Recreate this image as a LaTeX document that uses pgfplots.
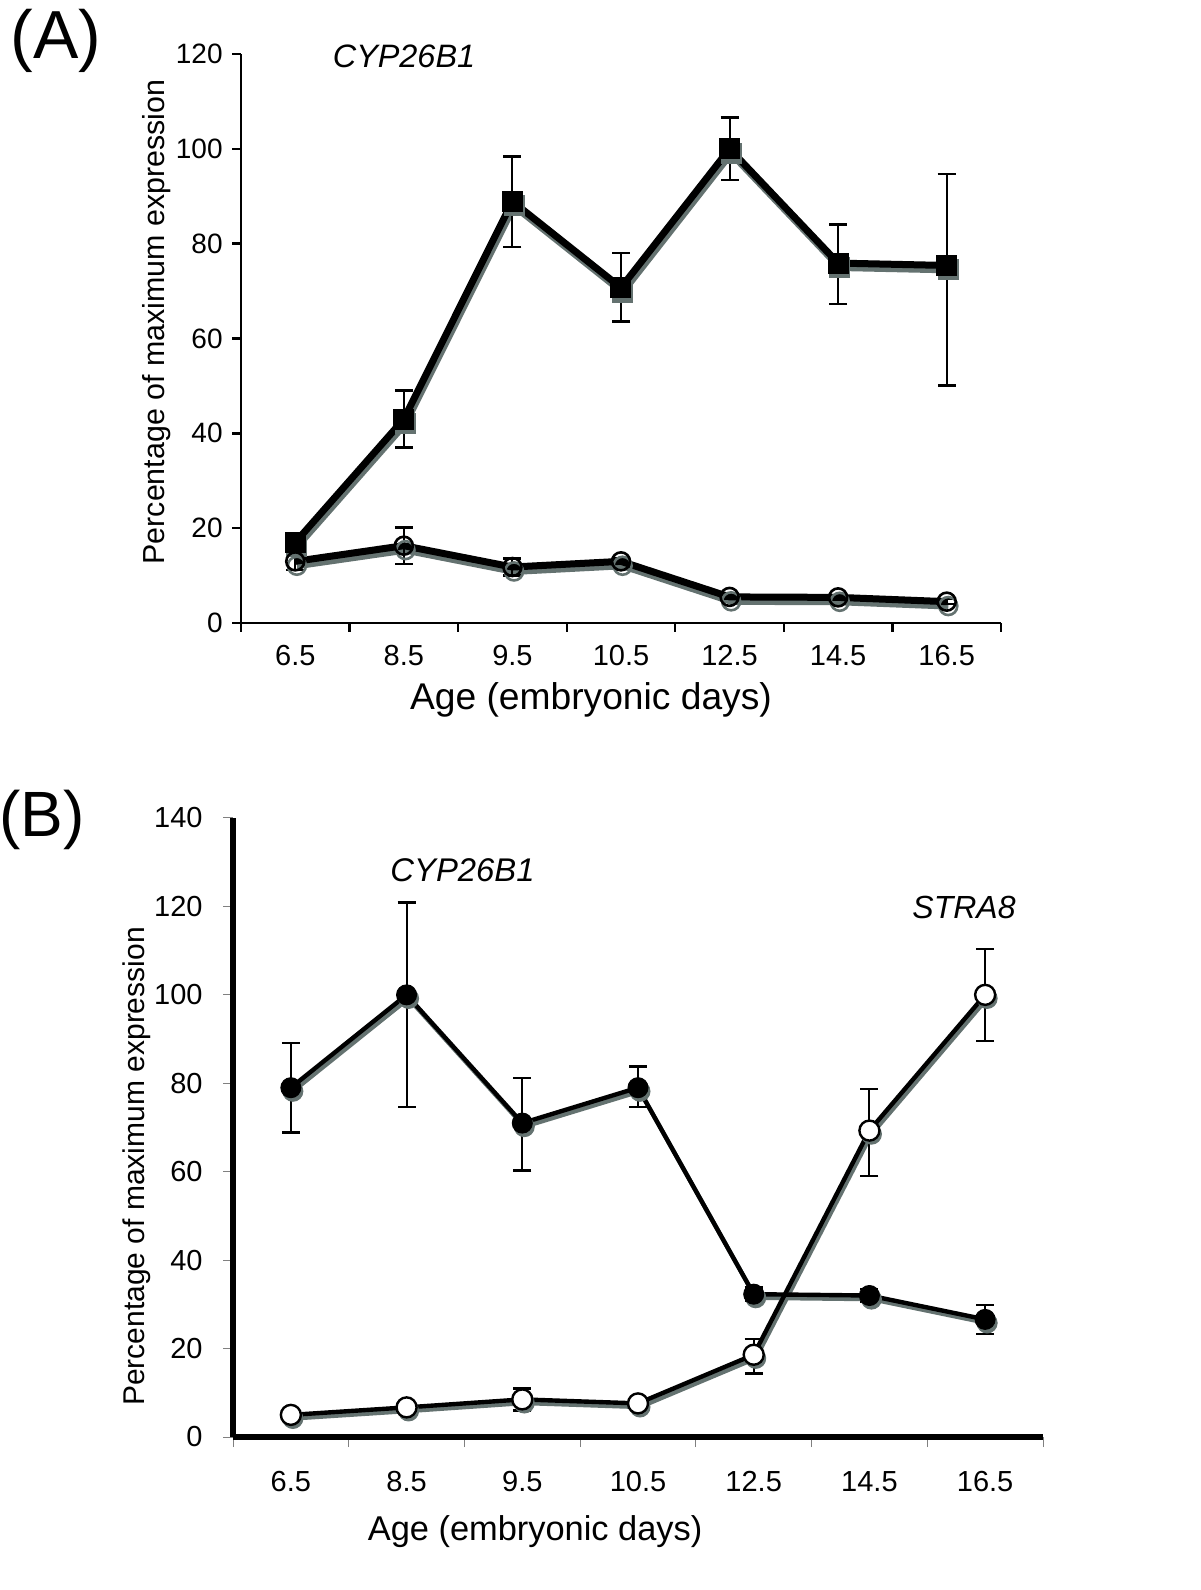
\documentclass[border=0pt]{standalone}
\usepackage{fontspec}
\setmainfont{Liberation Sans}
\usepackage{pgfplots}
\usepackage{pgfplotstable}
\pgfplotsset{compat=1.18}
\definecolor{shadowc}{RGB}{100,114,112}

\pgfplotstableread{
x y ep em
0 17 1.2 1.2
1 43 6 6
2 88.9 9.5 9.6
3 70.7 7.3 7.1
4 100 6.6 6.6
5 75.9 8.1 8.6
6 75.4 19.3 25.3
}\Asq
\pgfplotstableread{
x y ep em
0 13 1.8 1.8
1 16.3 3.8 3.8
2 11.8 1.8 1.8
3 13.0 0.6 0.6
4 5.5 0.5 0.5
5 5.4 0.5 0.5
6 4.5 0.5 0.5
}\Acirc
\pgfplotstableread{
x y ep em
0 79 10.1 10.1
1 100 20.9 25.4
2 71 10.2 10.7
3 79 4.8 4.4
4 32.3 1.5 1.5
5 32 1.5 1.5
6 26.6 3.3 3.3
}\Bfill
\pgfplotstableread{
x y ep em
0 5.0 1 1
1 6.7 1 1
2 8.5 2.5 2.5
3 7.6 1 1
4 18.6 3.6 4.2
5 69.3 9.4 10.3
6 100 10.4 10.5
}\Bopen

\pgfplotsset{
  commonax/.style={
    scale only axis,
    axis lines*=left,
    xmin=-0.5, xmax=6.5,
    tick align=outside,
    xtick={-0.5,0.5,...,6.5},
    xticklabels={},
    extra x ticks={0,1,2,3,4,5,6},
    extra x tick labels={6.5,8.5,9.5,10.5,12.5,14.5,16.5},
    extra x tick style={major tick length=0pt},
    /pgf/number format/assume math mode=true,
    clip=false,
  },
  errstyle/.style={
    error bars/.cd, y dir=both, y explicit,
    error bar style={line width=1pt, black, solid},
    error mark options={rotate=90, mark size=4.5pt, line width=1.2pt, black},
  },
}

\begin{document}
\begin{tikzpicture}
\path[use as bounding box] (0,0) rectangle (600pt,795pt);

% ---------- Panel A ----------
\begin{axis}[commonax,
  at={(120.5pt,483.5pt)}, anchor=south west,
  width=380pt, height=284.5pt,
  ymin=0, ymax=120, ytick={0,20,...,120},
  axis line style={line width=1.3pt},
  major tick style={line width=1.2pt, black},
  major tick length=4.5pt,
  yticklabel style={font=\fontsize{14}{16}\selectfont, inner sep=0pt, xshift=-4.5pt},
  xticklabel style={font=\fontsize{14.5}{16}\selectfont, anchor=center, yshift=-16.5pt},
  every axis y label/.style={at={(axis description cs:-0.1105,0.529)}, rotate=90, anchor=center, font=\fontsize{15.2}{18}\selectfont},
  every axis x label/.style={at={(axis description cs:0.4605,-0.135)}, anchor=center, font=\fontsize{18.6}{21}\selectfont},
  ylabel={Percentage of maximum expression},
  xlabel={Age (embryonic days)},
]
% shadows
\addplot[shadowc, line width=3.5pt, mark=square*, mark size=5pt, mark options={solid, line width=0.5pt, fill=shadowc}, xshift=0.8pt, yshift=-2.2pt, forget plot] table[x=x,y=y]{\Asq};
\addplot[shadowc, line width=3.5pt, mark=o, mark size=4.5pt, mark options={solid, line width=1.3pt}, xshift=0.8pt, yshift=-2.2pt, forget plot] table[x=x,y=y]{\Acirc};
% main
\addplot[black, line width=3.5pt, mark=o, mark size=4.5pt, mark options={solid, line width=1.3pt}, errstyle] table[x=x,y=y,y error plus=ep,y error minus=em]{\Acirc};
\addplot[black, line width=3.5pt, mark=square*, mark size=5pt, mark options={solid, line width=0.5pt}, errstyle] table[x=x,y=y,y error plus=ep,y error minus=em]{\Asq};
\end{axis}

% ---------- Panel B ----------
\begin{axis}[commonax,
  at={(116.5pt,76.5pt)}, anchor=south west,
  width=405pt, height=309.5pt,
  ymin=0, ymax=140, ytick={0,20,...,140},
  axis line style={line width=3pt},
  major tick style={line width=0.5pt, gray},
  major tick length=5pt,
  yticklabel style={font=\fontsize{14.5}{16}\selectfont, inner sep=0pt, xshift=-10pt},
  xticklabel style={font=\fontsize{14.5}{16}\selectfont, anchor=center, yshift=-22.5pt},
  every axis y label/.style={at={(axis description cs:-0.1185,0.437)}, rotate=90, anchor=center, font=\fontsize{15}{18}\selectfont},
  every axis x label/.style={at={(axis description cs:0.373,-0.153)}, anchor=center, font=\fontsize{17.2}{20}\selectfont},
  ylabel={Percentage of maximum expression},
  xlabel={Age (embryonic days)},
]
% shadows
\addplot[shadowc, line width=2.2pt, mark=*, mark size=5pt, mark options={solid, line width=0.5pt, fill=shadowc}, xshift=1pt, yshift=-1.8pt, forget plot] table[x=x,y=y]{\Bfill};
\addplot[shadowc, line width=2.2pt, mark=*, mark size=5pt, mark options={solid, line width=0.5pt, fill=shadowc}, xshift=1pt, yshift=-1.8pt, forget plot] table[x=x,y=y]{\Bopen};
% main
\addplot[black, line width=2.2pt, mark=*, mark size=5pt, mark options={solid, line width=0.5pt}, errstyle] table[x=x,y=y,y error plus=ep,y error minus=em]{\Bfill};
\addplot[black, line width=2.2pt, mark=*, mark size=5pt, mark options={solid, line width=1.2pt, fill=white, draw=black}, errstyle] table[x=x,y=y,y error plus=ep,y error minus=em]{\Bopen};
\end{axis}

% ---------- Texts ----------
\node[font=\fontsize{34}{38}\selectfont, inner sep=0pt] at (28pt,774.5pt) {(A)};
\node[font=\fontsize{32}{36}\selectfont, inner sep=0pt] at (21pt,385pt) {(B)};
\node[font=\fontsize{16.2}{19}\selectfont\itshape, inner sep=0pt] at (202pt,766.75pt) {CYP26B1};
\node[font=\fontsize{16.4}{19}\selectfont\itshape, inner sep=0pt] at (231.25pt,360pt) {CYP26B1};
\node[font=\fontsize{16}{19}\selectfont\itshape, inner sep=0pt] at (482pt,341.25pt) {STRA8};
\end{tikzpicture}
\end{document}
